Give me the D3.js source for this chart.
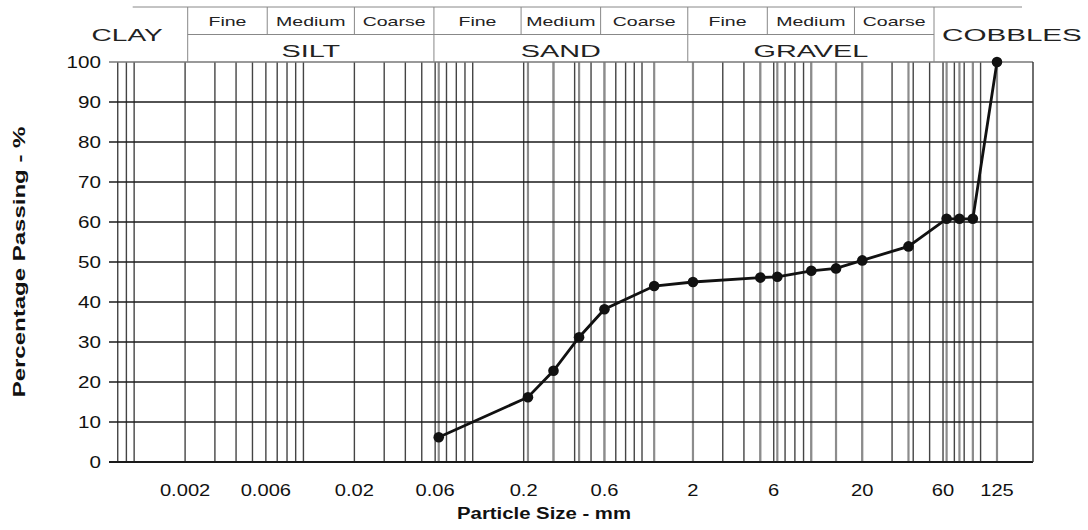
<!DOCTYPE html>
<html>
<head>
<meta charset="utf-8">
<script src="https://cdn.jsdelivr.net/npm/d3@7"></script>
<style>
  body { margin: 0; background: #fff; }
  text { font-family: "Liberation Sans", Arial, sans-serif; fill: #111; }
</style>
</head>
<body>
<div id="chart"></div>
<script>
// sieve sizes (mm) and percentage passing
var sizes   = [0.063, 0.212, 0.3, 0.425, 0.6, 1.18, 2, 5, 6.3, 10, 14, 20, 37.5, 63, 75, 90, 125];
var passing = [6.2, 16.2, 22.8, 31.2, 38.2, 44, 45, 46.1, 46.3, 47.8, 48.4, 50.4, 53.9, 60.8, 60.8, 60.8, 100];

var xTickValues = [0.002, 0.006, 0.02, 0.06, 0.2, 0.6, 2, 6, 20, 60, 125];
var xTickLabels = ["0.002", "0.006", "0.02", "0.06", "0.2", "0.6", "2", "6", "20", "60", "125"];
var yTickValues = [0, 10, 20, 30, 40, 50, 60, 70, 80, 90, 100];

// classification header
var bandNames = ["SILT", "SAND", "GRAVEL"];
var bandEdges = [0.002, 0.06, 2, 60];
var subNames  = ["Fine", "Medium", "Coarse"];
var subEdges  = [0.002, 0.006, 0.02, 0.06, 0.2, 0.6, 2, 6, 20, 60];

var svg = d3.select("#chart")
  .append("svg")
  .attr("width", 1088)
  .attr("height", 530);

var margin = {top: 62, right: 55, bottom: 68, left: 112},
    width = 1088 - margin.left - margin.right,
    height = 530 - margin.top - margin.bottom;

var x = d3.scaleLog()
  .domain([0.00074, 204])
  .range([margin.left, margin.left + width]);

var y = d3.scaleLinear()
  .domain([0, 100])
  .range([margin.top + height, margin.top]);

// header table is drawn a bit narrower than the plot
var hx = d3.scaleLog()
  .domain([0.002, 60])
  .range([187.7, 934]);

// stretch text horizontally like the original
function stretch(sel, f) {
  sel.each(function() {
    var len = this.getComputedTextLength();
    d3.select(this).attr("textLength", len * f).attr("lengthAdjust", "spacingAndGlyphs");
  });
}

// vertical grid: log lines
var logLines = x.ticks(60).filter(function(d) { return d <= 100.0001; });
svg.append("g")
  .selectAll("line")
  .data(logLines)
  .enter().append("line")
    .attr("x1", function(d) { return x(d); })
    .attr("x2", function(d) { return x(d); })
    .attr("y1", y(100))
    .attr("y2", y(0))
    .attr("stroke", "#444")
    .attr("stroke-width", 1.4);

// sieve lines
svg.append("g")
  .selectAll("line")
  .data(sizes)
  .enter().append("line")
    .attr("x1", function(d) { return x(d); })
    .attr("x2", function(d) { return x(d); })
    .attr("y1", y(100))
    .attr("y2", y(0))
    .attr("stroke", "#8c8c8c")
    .attr("stroke-width", 2.2);

// horizontal grid
svg.append("g")
  .selectAll("line")
  .data(yTickValues)
  .enter().append("line")
    .attr("x1", margin.left - 3)
    .attr("x2", margin.left + width)
    .attr("y1", function(d) { return y(d); })
    .attr("y2", function(d) { return y(d); })
    .attr("stroke", function(d) { return d == 100 ? "#777" : "#1a1a1a"; })
    .attr("stroke-width", function(d) { return d == 0 ? 2 : 1.4; });

// right frame
svg.append("line")
  .attr("x1", margin.left + width).attr("x2", margin.left + width)
  .attr("y1", y(100)).attr("y2", y(0))
  .attr("stroke", "#333").attr("stroke-width", 1.4);

// y tick labels
svg.append("g")
  .selectAll("text")
  .data(yTickValues)
  .enter().append("text")
    .attr("x", margin.left - 11)
    .attr("y", function(d) { return y(d); })
    .attr("dy", "0.36em")
    .attr("text-anchor", "end")
    .style("font-size", "16.5px")
    .text(function(d) { return d; })
    .call(stretch, 1.25);

// x tick labels
svg.append("g")
  .selectAll("text")
  .data(xTickValues)
  .enter().append("text")
    .attr("x", function(d) { return x(d); })
    .attr("y", 496)
    .attr("text-anchor", "middle")
    .style("font-size", "16.5px")
    .text(function(d, i) { return xTickLabels[i]; })
    .call(stretch, 1.22);

// axis titles
svg.append("text")
  .attr("x", 544)
  .attr("y", 519)
  .attr("text-anchor", "middle")
  .style("font-size", "16px")
  .style("font-weight", "bold")
  .text("Particle Size  -  mm")
  .call(stretch, 1.27);

svg.append("text")
  .attr("transform", "translate(25," + y(50) + ") rotate(-90)")
  .attr("text-anchor", "middle")
  .style("font-size", "16px")
  .style("font-weight", "bold")
  .text("Percentage Passing  -  %")
  .call(stretch, 1.5);

// header table
var head = svg.append("g").attr("stroke", "#888").attr("stroke-width", 1);
head.append("line")
  .attr("x1", hx(0.002) - 55).attr("x2", hx(60) + 88)
  .attr("y1", 7).attr("y2", 7);
head.append("line")
  .attr("x1", hx(0.002)).attr("x2", hx(60))
  .attr("y1", 34.5).attr("y2", 34.5);
head.selectAll(".sub")
  .data(subEdges)
  .enter().append("line")
    .attr("x1", function(d) { return hx(d); })
    .attr("x2", function(d) { return hx(d); })
    .attr("y1", 7)
    .attr("y2", function(d) { return bandEdges.indexOf(d) >= 0 ? y(100) : 34.5; });

svg.append("g")
  .selectAll("text")
  .data(d3.range(subEdges.length - 1))
  .enter().append("text")
    .attr("x", function(i) { return (hx(subEdges[i]) + hx(subEdges[i + 1])) / 2; })
    .attr("y", 25.5)
    .attr("text-anchor", "middle")
    .style("font-size", "13px")
    .style("fill", "#222")
    .text(function(i) { return subNames[i % 3]; })
    .call(stretch, 1.5);

svg.append("g")
  .selectAll("text")
  .data(bandNames)
  .enter().append("text")
    .attr("x", function(d, i) { return (hx(bandEdges[i]) + hx(bandEdges[i + 1])) / 2; })
    .attr("y", 56.5)
    .attr("text-anchor", "middle")
    .style("font-size", "16px")
    .style("fill", "#222")
    .text(function(d) { return d; })
    .call(stretch, 1.8);

svg.append("text")
  .attr("x", hx(0.002) - 25)
  .attr("y", 40.7)
  .attr("text-anchor", "end")
  .style("font-size", "16px")
  .style("fill", "#222")
  .text("CLAY")
  .call(stretch, 1.75);

svg.append("text")
  .attr("x", hx(60) + 8)
  .attr("y", 40.7)
  .attr("text-anchor", "start")
  .style("font-size", "16px")
  .style("fill", "#222")
  .text("COBBLES")
  .call(stretch, 1.85);

// grading curve
var pts = sizes.map(function(d, i) { return [d, passing[i]]; });

svg.append("path")
  .datum(pts)
  .attr("fill", "none")
  .attr("stroke", "#111")
  .attr("stroke-width", 2.8)
  .attr("d", d3.line()
    .x(function(d) { return x(d[0]); })
    .y(function(d) { return y(d[1]); }));

svg.append("g")
  .selectAll("circle")
  .data(pts)
  .enter().append("circle")
    .attr("cx", function(d) { return x(d[0]); })
    .attr("cy", function(d) { return y(d[1]); })
    .attr("r", 5.3)
    .attr("fill", "#111");
</script>
</body>
</html>
